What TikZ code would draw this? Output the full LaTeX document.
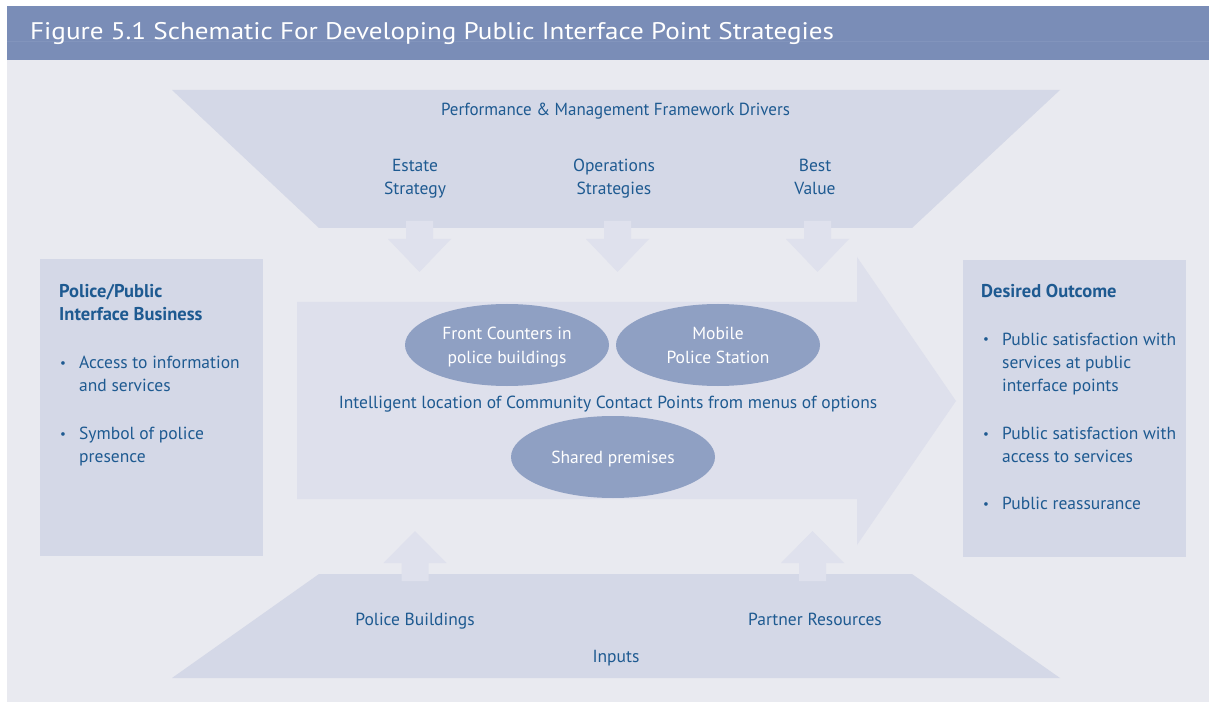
\documentclass[tikz,border=0pt]{standalone}
\usepackage{fontspec}
\setmainfont{PT Sans}
\newfontfamily\titlefont[FakeStretch=1.13]{PT Sans}
\newfontfamily\narrowfont[FakeStretch=0.97]{PT Sans}
\usetikzlibrary{shapes.geometric}
\definecolor{titlebar}{RGB}{122,141,183}
\definecolor{titleline}{RGB}{130,148,188}
\definecolor{bgc}{RGB}{233,234,240}
\definecolor{panel}{RGB}{212,216,231}
\definecolor{bigarrow}{RGB}{222,224,236}
\definecolor{smallarrow}{RGB}{223,225,237}
\definecolor{oval}{RGB}{143,160,195}
\definecolor{txt}{RGB}{30,90,145}
\tikzset{
  ctext/.style={inner sep=0, text=txt, align=center, anchor=base, font=\fontsize{17.5}{23.3}\selectfont},
  otext/.style={ctext, text=white},
  btext/.style={inner sep=0, text=txt, align=left, anchor=base west, font=\fontsize{17.5}{23.3}\selectfont},
  bhead/.style={btext, font=\bfseries\fontsize{18.5}{23.3}\selectfont},
  bdot/.style={inner sep=0, text=txt, anchor=base, font=\fontsize{13}{23.3}\selectfont},
  ovalnode/.style={ellipse, fill=oval, minimum width=204, minimum height=82, inner sep=0},
}
\begin{document}
\begin{tikzpicture}[x=1pt,y=-1pt]
\useasboundingbox (0,0) rectangle (1213,703);
\fill[white] (0,0) rectangle (1213,703);
% background and title bar
\fill[bgc] (7,60) rectangle (1209,702);
\fill[titlebar] (7,6) rectangle (1209,60);
\draw[titleline, line width=0.8] (7,41) -- (1209,41);
\node[anchor=base west, inner sep=0, text=white, font=\titlefont\fontsize{24}{28}\selectfont] (title) at (30,40) {Figure 5.1 Schematic For Developing Public Interface Point Strategies};
% top trapezoid
\fill[panel] (172,90) -- (1060,90) -- (912,228) -- (319,228) -- cycle;
% bottom trapezoid
\fill[panel] (319,574) -- (912,574) -- (1060,678) -- (172,678) -- cycle;
% down arrows
\foreach \c in {419.5,617.5,817.5}{
  \fill[smallarrow] (\c-13.5,221) -- (\c+13.5,221) -- (\c+13.5,239) -- (\c+31.5,239) -- (\c,272) -- (\c-31.5,239) -- (\c-13.5,239) -- cycle;
}
% up arrows
\foreach \c in {415,812.5}{
  \fill[smallarrow] (\c-13.5,581) -- (\c+13.5,581) -- (\c+13.5,563) -- (\c+31.5,563) -- (\c,531) -- (\c-31.5,563) -- (\c-13.5,563) -- cycle;
}
% big arrow
\fill[bigarrow] (297,302) -- (857,302) -- (857,257) -- (956,401) -- (857,545) -- (857,499) -- (297,499) -- cycle;
% side boxes
\fill[panel] (40,259) rectangle (263,556);
\fill[panel] (963,260) rectangle (1186,557);
% top texts
\node[ctext, font=\narrowfont\fontsize{17.5}{23.3}\selectfont] (perf) at (615.5,116) {Performance \& Management Framework Drivers};
\node[ctext] (estate) at (415,195) {Estate\\Strategy};
\node[ctext] (ops) at (614,195) {Operations\\Strategies};
\node[ctext] (bv) at (815,195) {Best\\Value};
% ovals
\node[ovalnode] (front) at (507,345) {};
\node[ovalnode] (mobile) at (718,345) {};
\node[ovalnode] (shared) at (613,457) {};
\node[otext] (fronttxt) at (front.center) [yshift=-18] {Front Counters in\\police buildings};
\node[otext] (mobiletxt) at (mobile.center) [yshift=-18] {Mobile\\Police Station};
\node[otext] (sharedtxt) at (shared.center) [yshift=-6] {Shared premises};
\node[ctext] (intel) at (608,408) {Intelligent location of Community Contact Points from menus of options};
% bottom texts
\node[ctext] (pb) at (415,625) {Police Buildings};
\node[ctext] (pr) at (815,625) {Partner Resources};
\node[ctext] (inputs) at (616,662) {Inputs};
% left box
\node[bhead] (lhead) at (59,321) {Police/Public\\Interface Business};
\node[bdot] (lb1) at (63,367) {\textbullet};
\node[btext] (l1) at (79,391.3) {Access to information\\and services};
\node[bdot] (lb2) at (63,438) {\textbullet};
\node[btext] (l2) at (79,462.3) {Symbol of police\\presence};
% right box
\node[bhead] (rhead) at (981,298) {Desired Outcome};
\node[bdot] (rb1) at (986,344) {\textbullet};
\node[btext] (r1) at (1002,391.6) {Public satisfaction with\\services at public\\interface points};
\node[bdot] (rb2) at (986,438) {\textbullet};
\node[btext] (r2) at (1002,462.3) {Public satisfaction with\\access to services};
\node[bdot] (rb3) at (986,508) {\textbullet};
\node[btext] (r3) at (1002,509) {Public reassurance};
\end{tikzpicture}
\end{document}
